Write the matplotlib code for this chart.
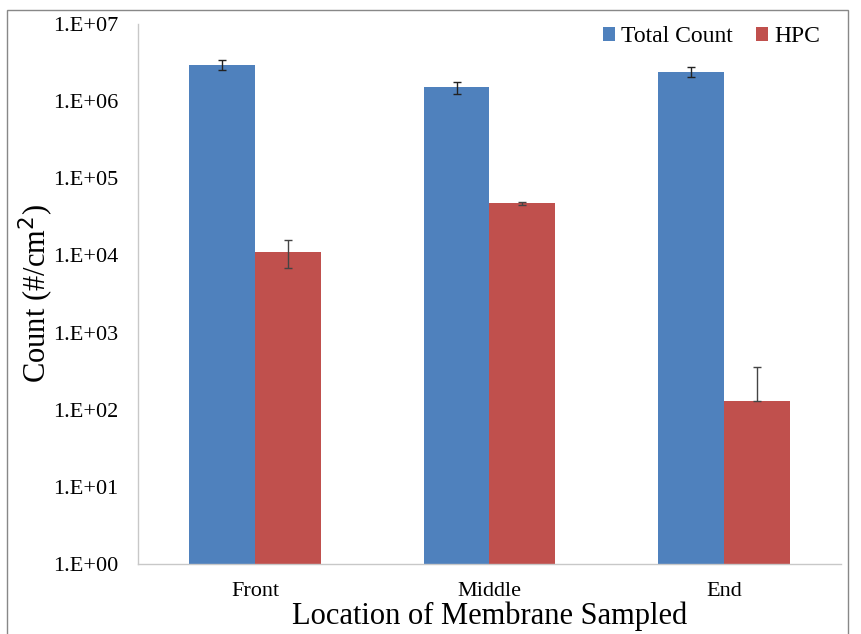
import numpy as np
import matplotlib.pyplot as plt
from matplotlib.patches import Rectangle

plt.rcParams['font.family'] = ['Liberation Serif', 'DejaVu Serif']

locations = ['Front', 'Middle', 'End']
total_count = [2.95e6, 1.5e6, 2.4e6]
total_err = [4.5e5, 2.7e5, 3.5e5]
hpc = [1.12e4, 4.7e4, 130]
hpc_err_low = [4.3e3, 2.0e3, 0]
hpc_err_high = [4.8e3, 2.0e3, 225]
yticks = [1e0, 1e1, 1e2, 1e3, 1e4, 1e5, 1e6, 1e7]
ytick_labels = ['1.E+00', '1.E+01', '1.E+02', '1.E+03', '1.E+04', '1.E+05', '1.E+06', '1.E+07']

fig = plt.figure(figsize=(8.61, 6.34), dpi=100)
ax = fig.add_axes([0.160, 0.1104, 0.817, 0.852])

x = np.arange(len(locations))
w = 0.281
ax.bar(x - w/2, total_count, w, color='#4F81BD', label='Total Count',
       yerr=total_err, error_kw=dict(ecolor='#222222', elinewidth=1, capsize=3, capthick=1))
ax.bar(x + w/2, hpc, w, color='#C0504D', label='HPC',
       yerr=[hpc_err_low, hpc_err_high],
       error_kw=dict(ecolor='#444444', elinewidth=1, capsize=3, capthick=1))

ax.set_yscale('log')
ax.set_ylim(1, 1e7)
ax.set_xlim(-0.5, 2.5)
ax.set_yticks(yticks)
ax.set_yticklabels(ytick_labels)
ax.minorticks_off()
ax.set_xticks(x)
ax.set_xticklabels(locations)
ax.tick_params(axis='both', length=0, labelsize=16)
ax.tick_params(axis='y', pad=14)
ax.tick_params(axis='x', pad=13)

for s in ['top', 'right']:
    ax.spines[s].set_visible(False)
for s in ['left', 'bottom']:
    ax.spines[s].set_color('#c8c8c8')
    ax.spines[s].set_linewidth(1)

ax.set_ylabel('Count (#/cm$^2$)', fontsize=22, labelpad=-2)
ax.set_xlabel('Location of Membrane Sampled', fontsize=22, labelpad=0)

ax.legend(loc='center right', bbox_to_anchor=(820/861, 1 - 37/634),
          bbox_transform=fig.transFigure, borderaxespad=0, borderpad=0,
          ncol=2, frameon=False, fontsize=17, handlelength=0.5, handleheight=0.5,
          handletextpad=0.25, columnspacing=1.0)

fig.patches.append(Rectangle((7/861, -0.01), 841/861, 1 - 10/634 + 0.01,
                             transform=fig.transFigure, fill=False,
                             edgecolor='#888888', linewidth=1))

fig.savefig('out.png', dpi=100)
